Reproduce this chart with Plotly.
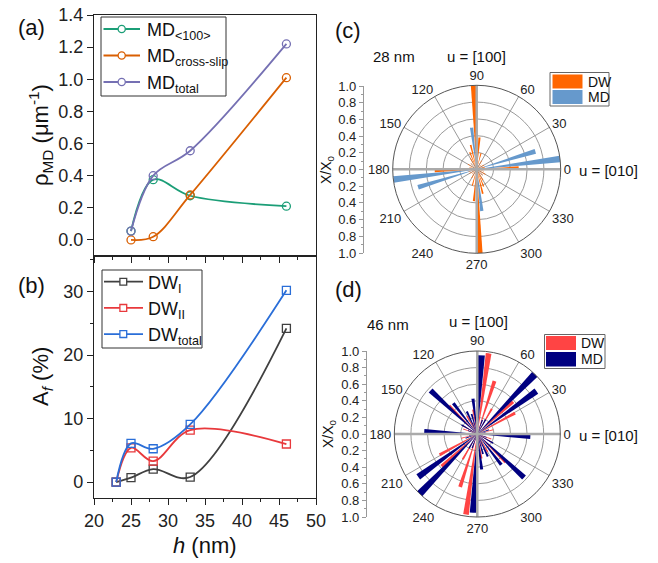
import plotly.graph_objects as go

# ---------------- data ----------------
# (a) misfit dislocation density vs thickness
h_md = [25, 28, 33, 46]
md_100 = [0.055, 0.375, 0.275, 0.21]
md_cross = [0.0, 0.02, 0.28, 1.01]
md_total = [0.055, 0.40, 0.555, 1.22]

# (b) domain wall area fraction vs thickness
h_dw = [23, 25, 28, 33, 46]
dw_I = [0.0, 0.7, 2.05, 0.8, 24.2]
dw_II = [0.0, 5.4, 3.3, 8.2, 6.0]
dw_total = [0.0, 6.1, 5.25, 9.1, 30.2]

# (c) 28 nm rose diagram
c_dw_theta = [92, 272, 2, 182, 85, 265, 104, 284, 75, 255, 112, 292, 60, 240, 120, 300,
              30, 210, 150, 330, 45, 225, 135, 315, 15, 195, 165, 345]
c_dw_r = [1.0, 1.0, 0.5, 0.5, 0.38, 0.38, 0.3, 0.3, 0.2, 0.2, 0.22, 0.22, 0.12, 0.12, 0.15, 0.15,
          0.1, 0.1, 0.12, 0.12, 0.08, 0.08, 0.1, 0.1, 0.1, 0.1, 0.09, 0.09]
c_md_theta = [7, 187, 17, 197, 97, 277, 60, 240, 135, 315]
c_md_r = [1.0, 1.0, 0.73, 0.73, 0.5, 0.5, 0.08, 0.08, 0.1, 0.1]

# (d) 46 nm rose diagram
d_dw_theta = [82, 262, 72, 252, 42, 222, 29, 209, 135, 315, 100, 280, 60, 240, 15, 195,
              160, 340, 120, 300, 110, 290, 5, 185, 150, 330]
d_dw_r = [0.98, 0.98, 0.67, 0.67, 0.58, 0.58, 0.52, 0.52, 0.48, 0.48, 0.3, 0.3, 0.35, 0.35, 0.2, 0.2,
          0.18, 0.18, 0.25, 0.25, 0.15, 0.15, 0.12, 0.12, 0.2, 0.2]
d_md_theta = [87, 267, 46, 226, 36, 216, 357, 177, 137, 317, 97, 277, 128, 308, 106, 286,
              60, 240, 20, 200, 150, 330, 160, 340, 115, 295, 70, 250, 10, 190]
d_md_r = [0.95, 0.95, 1.0, 1.0, 0.88, 0.88, 0.64, 0.64, 0.77, 0.77, 0.43, 0.43, 0.47, 0.47, 0.25, 0.25,
          0.2, 0.2, 0.15, 0.15, 0.22, 0.22, 0.12, 0.12, 0.3, 0.3, 0.18, 0.18, 0.1, 0.1]

angle_ticks = list(range(0, 360, 30))
radial_ticks = [-1.0, -0.8, -0.6, -0.4, -0.2, 0.0, 0.2, 0.4, 0.6, 0.8, 1.0]
radial_text = ["1.0", "0.8", "0.6", "0.4", "0.2", "0.0", "0.2", "0.4", "0.6", "0.8", "1.0"]

md_names = ["MD<sub>&lt;100&gt;</sub>", "MD<sub>cross-slip</sub>", "MD<sub>total</sub>"]
dw_names = ["DW<sub>I</sub>", "DW<sub>II</sub>", "DW<sub>total</sub>"]

# ---------------- geometry helpers ----------------
W, H = 658, 563
FONT = "Arial, Liberation Sans, sans-serif"


def px(x):
    return x / W


def py(y):
    return 1 - y / H


fig = go.Figure()

MD_COLS = ["#1b9e77", "#d95f02", "#7570b3"]
DW_COLS = ["#404040", "#e8393c", "#2a6ed8"]

# (a)
for name, ys, col in zip(md_names, [md_100, md_cross, md_total], MD_COLS):
    fig.add_trace(go.Scatter(x=h_md, y=ys, name=name, mode="lines+markers", showlegend=False,
                             line=dict(color=col, width=1.8, shape="spline", smoothing=1.0),
                             marker=dict(symbol="circle-open", size=8, color=col, line=dict(width=1.3)),
                             xaxis="x", yaxis="y"))

# (b)
for name, ys, col in zip(dw_names, [dw_I, dw_II, dw_total], DW_COLS):
    fig.add_trace(go.Scatter(x=h_dw, y=ys, name=name, mode="lines+markers", showlegend=False,
                             line=dict(color=col, width=1.8, shape="spline", smoothing=1.0),
                             marker=dict(symbol="square-open", size=8, color=col, line=dict(width=1.3)),
                             xaxis="x2", yaxis="y2"))

# polar cross lines (axes through the centre)
for sub in ["polar", "polar2"]:
    fig.add_trace(go.Scatterpolar(r=[1, 0, 1], theta=[0, 0, 180], mode="lines",
                                  line=dict(color="#aaaaaa", width=2.5), showlegend=False,
                                  hoverinfo="skip", subplot=sub))
    fig.add_trace(go.Scatterpolar(r=[1, 0, 1], theta=[90, 90, 270], mode="lines",
                                  line=dict(color="#aaaaaa", width=2.5), showlegend=False,
                                  hoverinfo="skip", subplot=sub))

C_DW, C_MD = "#ff6600", "#6699cc"
D_DW, D_MD = "#ff4444", "#000080"

# (c)
fig.add_trace(go.Barpolar(r=c_md_r, theta=c_md_theta, width=4.5, name="MD", showlegend=False,
                          marker=dict(color=C_MD, line=dict(width=0)), subplot="polar"))
fig.add_trace(go.Barpolar(r=c_dw_r, theta=c_dw_theta, width=4, name="DW", showlegend=False,
                          marker=dict(color=C_DW, line=dict(width=0)), subplot="polar"))
# (d)
fig.add_trace(go.Barpolar(r=d_dw_r, theta=d_dw_theta, width=4, name="DW", showlegend=False,
                          marker=dict(color=D_DW, line=dict(width=0)), subplot="polar2"))
fig.add_trace(go.Barpolar(r=d_md_r, theta=d_md_theta, width=5, name="MD", showlegend=False,
                          marker=dict(color=D_MD, line=dict(width=0)), subplot="polar2"))

# dummy traces for the radial scale axes
fig.add_trace(go.Scatter(x=[None], y=[None], xaxis="x3", yaxis="y3", showlegend=False))
fig.add_trace(go.Scatter(x=[None], y=[None], xaxis="x4", yaxis="y4", showlegend=False))

axis_common = dict(showline=True, linecolor="#222", linewidth=1.2, mirror=True,
                   ticks="outside", ticklen=6, tickwidth=1.2, tickcolor="#222",
                   showgrid=False, zeroline=False, automargin=False,
                   tickfont=dict(size=18, color="#222", family=FONT))

x_dom = [px(94), px(316)]

polar_common = dict(
    bgcolor="white",
    barmode="overlay",
    angularaxis=dict(rotation=0, direction="counterclockwise", tickmode="array",
                     tickvals=angle_ticks, ticks="", showline=True, linecolor="#555",
                     linewidth=1, gridcolor="#9a9a9a", gridwidth=0.8,
                     tickfont=dict(size=13, color="#222", family=FONT)),
    radialaxis=dict(range=[0, 1], tickvals=[0.2, 0.4, 0.6, 0.8, 1.0], showticklabels=False,
                    ticks="", showline=False, gridcolor="#9a9a9a", gridwidth=0.8),
)

radial_axis_common = dict(range=[1, -1], tickmode="array",
                          tickvals=radial_ticks, ticktext=radial_text,
                          anchor="free", side="left", showline=True, linecolor="#999",
                          linewidth=1.2, ticks="outside", ticklen=4, tickcolor="#999",
                          showgrid=False, zeroline=False, automargin=False,
                          minor=dict(tickmode="linear", tick0=0, dtick=0.1, ticks="outside",
                                     ticklen=2, tickcolor="#999"),
                          tickfont=dict(size=13, color="#222", family=FONT))

fig.update_layout(
    width=W, height=H, margin=dict(l=0, r=0, t=0, b=0, pad=0, autoexpand=False),
    paper_bgcolor="white", plot_bgcolor="white",
    font=dict(family=FONT, color="#222"),
    showlegend=False,
    xaxis=dict(domain=x_dom, anchor="y", range=[20, 50], dtick=5, showticklabels=False,
               minor=dict(dtick=2.5, ticks="outside", ticklen=3, tickcolor="#222"),
               **axis_common),
    yaxis=dict(domain=[py(256), py(15)], anchor="x", range=[-0.1, 1.4001], dtick=0.2,
               tickformat=".1f", **axis_common),
    xaxis2=dict(domain=x_dom, anchor="y2", range=[20, 50], dtick=5,
                minor=dict(dtick=2.5, ticks="outside", ticklen=3, tickcolor="#222"),
                **axis_common),
    yaxis2=dict(domain=[py(498), py(256)], anchor="x2", range=[-2.5, 35.6], dtick=10,
                minor=dict(dtick=5, ticks="outside", ticklen=3, tickcolor="#222"),
                **axis_common),
    xaxis3=dict(domain=[px(600), px(601)], anchor="y3", visible=False, range=[0, 1]),
    yaxis3=dict(domain=[py(253), py(86)], position=px(363), **radial_axis_common),
    xaxis4=dict(domain=[px(600), px(601)], anchor="y4", visible=False, range=[0, 1]),
    yaxis4=dict(domain=[py(517), py(351)], position=px(366), **radial_axis_common),
    polar=dict(domain=dict(x=[px(476.7 - 84), px(476.7 + 84)], y=[py(169.3 + 84), py(169.3 - 84)]),
               **polar_common),
    polar2=dict(domain=dict(x=[px(477.3 - 83), px(477.3 + 83)], y=[py(434 + 83), py(434 - 83)]),
                **polar_common),
)


def note(text, x, y, size, xanchor="center", angle=0):
    fig.add_annotation(text=text, x=px(x), y=py(y), xref="paper", yref="paper",
                       showarrow=False, xanchor=xanchor, yanchor="middle", textangle=angle,
                       font=dict(size=size, color="#111", family=FONT))


def box(x0, y0, x1, y1, fill, line="rgba(0,0,0,0)", lw=0):
    fig.add_shape(type="rect", xref="paper", yref="paper", x0=px(x0), x1=px(x1),
                  y0=py(y1), y1=py(y0), fillcolor=fill, line=dict(color=line, width=lw))


def seg(x0, x1, y, col):
    fig.add_shape(type="line", xref="paper", yref="paper", x0=px(x0), x1=px(x1),
                  y0=py(y), y1=py(y), line=dict(color=col, width=1.8))


def symbol(kind, x, y, col, r=3.6):
    fig.add_shape(type=kind, xref="paper", yref="paper", x0=px(x - r), x1=px(x + r),
                  y0=py(y + r), y1=py(y - r), fillcolor="white", line=dict(color=col, width=1.3))


# legend (a)
box(101, 17, 226, 96, "white", "#333", 1)
for i, (name, col) in enumerate(zip(md_names, MD_COLS)):
    yy = 29 + 26.5 * i
    seg(103.5, 140, yy, col)
    symbol("circle", 121.7, yy, col)
    note(name, 144.5, yy + 2.5, 18, xanchor="left")

# legend (b)
box(102, 270, 202, 348, "white", "#333", 1)
for i, (name, col) in enumerate(zip(dw_names, DW_COLS)):
    yy = 281.7 + 26.2 * i
    seg(104, 143, yy, col)
    symbol("rect", 123.3, yy, col, r=3.4)
    note(name, 146, yy + 2.5, 18, xanchor="left")

# manual rose-diagram legends
box(550, 72.5, 609, 106, "white", "#666", 1)
box(552.5, 74.5, 582.5, 88.5, C_DW)
box(552.5, 90, 582.5, 104, C_MD)
note("DW", 585.5, 81.5, 14, xanchor="left")
note("MD", 585.5, 97, 14, xanchor="left")

box(544.5, 334.5, 605, 368.5, "white", "#666", 1)
box(546, 336, 576, 350, D_DW)
box(546, 352, 576, 366.5, D_MD)
note("DW", 578.5, 343, 14, xanchor="left")
note("MD", 578.5, 359, 14, xanchor="left")

note("(a)", 31, 27, 22)
note("(b)", 31, 285, 22)
note("(c)", 348, 30, 22)
note("(d)", 348, 289, 22)
note("ρ<sub>MD</sub> (μm<sup>-1</sup>)", 40, 135, 22, angle=-90)
note("A<sub><i>f</i></sub> (%)", 42, 377, 22, angle=-90)
note("<i>h</i> (nm)", 205, 545, 22)
note("X/X<sub>0</sub>", 327, 170, 14, angle=-90)
note("X/X<sub>0</sub>", 329, 434, 14, angle=-90)
note("28 nm", 394, 56, 15)
note("u = [100]", 476.5, 56, 15)
note("u = [010]", 577, 170.5, 15, xanchor="left")
note("46 nm", 388, 324, 15)
note("u = [100]", 478, 321, 15)
note("u = [010]", 577, 435, 15, xanchor="left")

fig.write_html("out.html", config={"displayModeBar": False},
               post_script="document.body.style.margin='0px';document.body.style.padding='0px';")
